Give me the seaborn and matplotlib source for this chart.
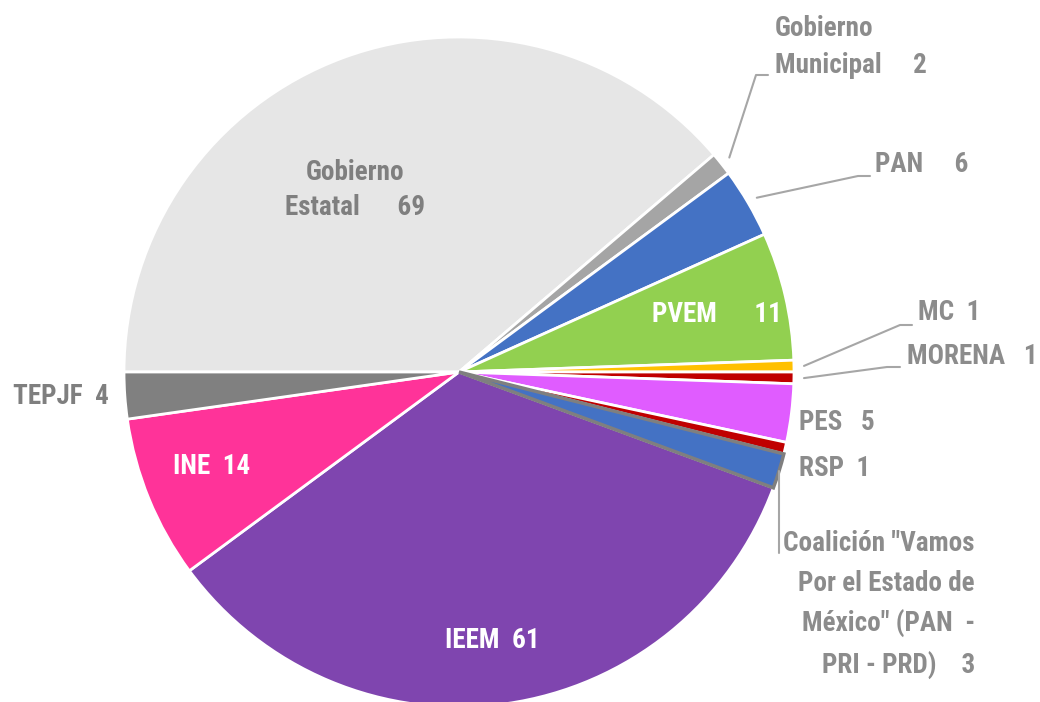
import numpy as np
import seaborn as sns
import matplotlib
matplotlib.use("Agg")
import matplotlib.pyplot as plt

# --- data ---
labels = ["Gobierno Estatal", "Gobierno Municipal", "PAN", "PVEM", "MC", "MORENA",
          "PES", "RSP", 'Coalición "Vamos Por el Estado de México" (PAN - PRI - PRD)',
          "IEEM", "INE", "TEPJF"]
values = [69, 2, 6, 11, 1, 1, 5, 1, 3, 61, 14, 4]
colors = ["#E6E6E6", "#A5A5A5", "#4472C4", "#92D050", "#FFC000", "#C00000",
          "#E05CFF", "#C00000", "#4472C4", "#7F45AF", "#FF3399", "#808080"]

sns.set_theme(style="white")
plt.rcParams["font.family"] = ["Roboto Condensed", "Roboto", "DejaVu Sans"]

W, H = 1040, 702
CX, CY, R = 459, 372, 335


def px(x, y):
    # pixel position (from top-left) -> data coords, pie radius = 1
    return (x - CX) / R, (CY - y) / R


fig = plt.figure(figsize=(W / 100, H / 100), dpi=100)
ax = fig.add_axes([0, 0, 1, 1])
wedges, _ = ax.pie(values, colors=colors, startangle=180, counterclock=False,
                   radius=1, center=(0, 0),
                   wedgeprops=dict(edgecolor="white", linewidth=2))
wedges[8].set_edgecolor("#7F7F7F")
wedges[8].set_linewidth(2.5)
wedges[8].set_zorder(3)

x0, _ = px(0, 0)
x1, _ = px(W, 0)
_, y0 = px(0, H)
_, y1 = px(0, 0)
ax.set_xlim(x0, x1)
ax.set_ylim(y0, y1)
ax.set_aspect("equal")
ax.axis("off")

grey = "#8C8C8C"
dark = "#7F7F7F"
fs = 19.5

# label texts: (index, text, pixel pos, ha, colour, linespacing)
texts = [
    (0, "Gobierno\nEstatal      69", (355, 190), "center", dark, 1.34),
    (1, "Gobierno\nMunicipal     2", (775, 47), "left", grey, 1.46),
    (2, "PAN     6", (875, 165), "left", grey, 1.2),
    (3, "PVEM      11", (652, 315), "left", "white", 1.2),
    (4, "MC  1", (918, 313), "left", grey, 1.2),
    (5, "MORENA   1", (907, 357), "left", grey, 1.2),
    (6, "PES   5", (799, 422), "left", grey, 1.2),
    (7, "RSP  1", (799, 468), "left", grey, 1.2),
    (8, 'Coalición "Vamos\nPor el Estado de\nMéxico" (PAN  -\nPRI - PRD)    3',
     (975, 605), "right", grey, 1.61),
    (9, "IEEM  61", (445, 640), "left", "white", 1.2),
    (10, "INE  14", (173, 467), "left", "white", 1.2),
    (11, "TEPJF  4", (13, 396), "left", dark, 1.2),
]
for i, s, (tx, ty), ha, c, ls in texts:
    x, y = px(tx, ty)
    ax.text(x, y, s, ha=ha, va="center", multialignment=ha, color=c,
            fontsize=fs, fontweight="bold", linespacing=ls, zorder=5)

# leader lines: start on the wedge edge at its mid angle
leaders = {
    1: [(756, 75), (768, 75)],
    2: [(858, 176), (870, 176)],
    4: [(900, 325), (912, 325)],
    5: [(887, 367), (900, 367)],
    8: [(780, 553)],
}
for i, pts in leaders.items():
    w = wedges[i]
    mid = np.deg2rad((w.theta1 + w.theta2) / 2)
    r0 = 1.03 if i != 8 else 1.0
    xs = [r0 * np.cos(mid)] + [px(*p)[0] for p in pts]
    ys = [r0 * np.sin(mid)] + [px(*p)[1] for p in pts]
    if i == 8:
        xs[1] = xs[0]
    ax.plot(xs, ys, color="#A6A6A6", lw=1.5, zorder=4)

fig.savefig("out.png", dpi=100)
